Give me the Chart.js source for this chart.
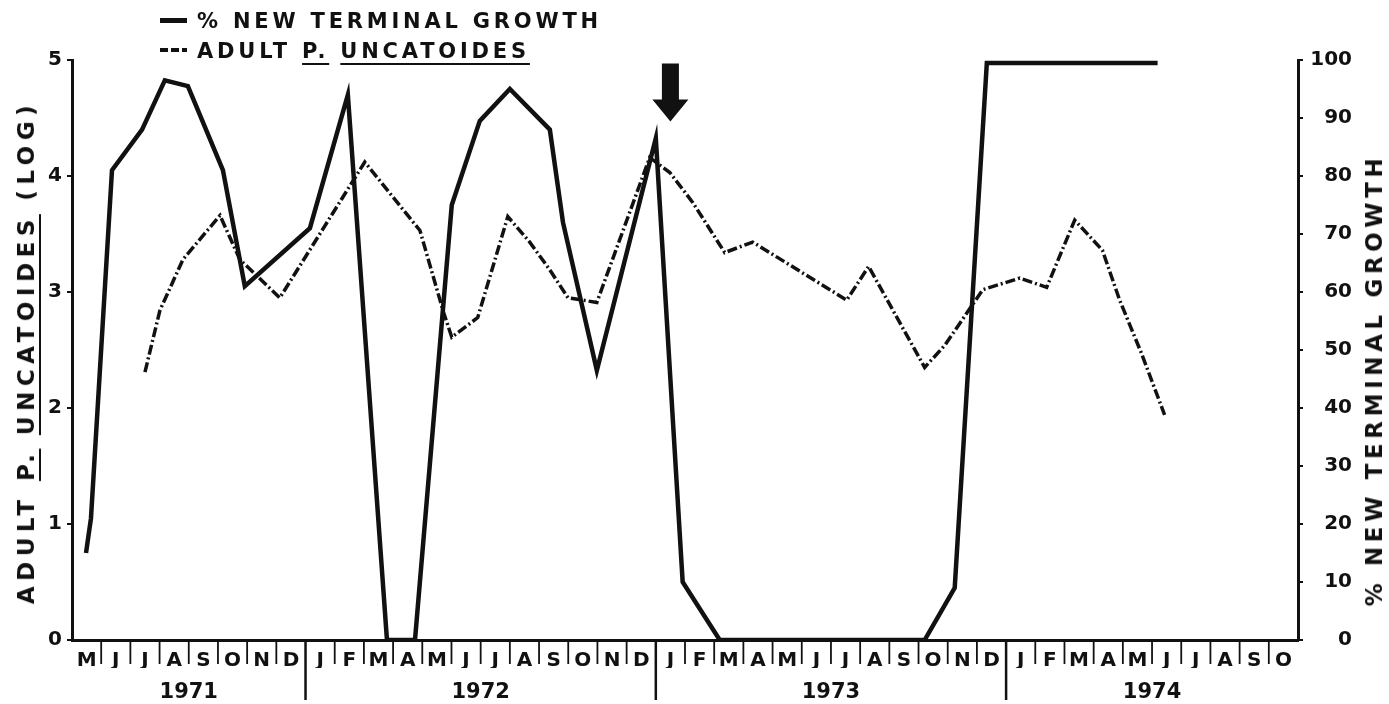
<!DOCTYPE html>
<html>
<head>
<meta charset="utf-8">
<script src="https://cdn.jsdelivr.net/npm/chart.js@4.4.0/dist/chart.umd.min.js"></script>
<style>
  body { margin: 0; background: #fff; }
  #wrap { position: relative; width: 1389px; height: 704px; font-family: "DejaVu Sans", sans-serif; font-weight: bold; color: #111; }
  #wrap canvas { position: absolute; left: 0; top: 0; }
  .lab { position: absolute; white-space: nowrap; font-size: 21px; line-height: 24px; letter-spacing: 3.8px; }
  .ttl { font-size: 23px; letter-spacing: 5.5px; }
  .rot { transform: translate(-50%, -50%) rotate(-90deg); }
  .key { display: inline-block; vertical-align: middle; width: 27px; margin-right: 10px; position: relative; top: -2px; }
  .solidKey { height: 5px; background: #111; }
  .dashKey { height: 4px; background: repeating-linear-gradient(90deg, #111 0 8px, transparent 8px 11px); }
  u { text-decoration-thickness: 2px; text-underline-offset: 5px; }
</style>
</head>
<body>
<div id="wrap">
  <canvas id="myChart" width="1389" height="704"></canvas>
  <div class="lab" style="left:160px; top:9px;"><span class="key solidKey"></span>% NEW TERMINAL GROWTH</div>
  <div class="lab" style="left:160px; top:39px;"><span class="key dashKey"></span>ADULT <u>P.</u> <u>UNCATOIDES</u></div>
  <div class="lab ttl rot" style="left:26px; top:352px;">ADULT <u>P.</u> <u>UNCATOIDES</u> (LOG)</div>
  <div class="lab ttl rot" style="left:1374px; top:380px; letter-spacing:4.6px;">% NEW TERMINAL GROWTH</div>
</div>
<script>
// month cells, May 1971 .. Oct 1974
const months = ['M','J','J','A','S','O','N','D',
  'J','F','M','A','M','J','J','A','S','O','N','D',
  'J','F','M','A','M','J','J','A','S','O','N','D',
  'J','F','M','A','M','J','J','A','S','O'];
const years = ['1971', '1972', '1973', '1974'];
const yearMid = [4, 14, 26, 37];
const yearBreaks = [8, 20, 32];

// % new terminal growth (right axis), x = months since 1 May 1971
const growthMonth = [0.48, 0.65, 1.37, 2.40, 3.18, 3.97, 5.17, 5.92, 8.15, 9.45, 10.79, 11.75, 13.01, 13.97, 15.0, 16.37, 16.82, 17.98, 20.0, 20.92, 22.19, 29.21, 30.24, 31.34, 37.19];
const growthPct = [15, 21, 81, 88, 96.5, 95.5, 81, 61, 71, 94, 0, 0, 75, 89.5, 95, 88, 72, 46.5, 86.5, 10, 0, 0, 9, 99.5, 99.5];

// adult P. uncatoides (log, left axis)
const adultMonth = [2.5, 3.01, 3.80, 5.07, 5.75, 7.12, 10.03, 11.92, 12.71, 13.01, 13.9, 14.93, 15.68, 16.37, 16.99, 17.98, 19.79, 20.48, 21.27, 22.36, 23.32, 26.54, 27.29, 29.21, 29.9, 31.2, 32.47, 33.39, 34.35, 35.3, 35.89, 36.64, 37.43];
const adultLog = [2.31, 2.84, 3.28, 3.66, 3.28, 2.95, 4.12, 3.53, 2.84, 2.61, 2.78, 3.65, 3.43, 3.19, 2.95, 2.91, 4.16, 4.03, 3.77, 3.34, 3.43, 2.93, 3.22, 2.35, 2.54, 3.02, 3.12, 3.04, 3.62, 3.36, 2.93, 2.47, 1.94];

// arrow marking January 1973
const arrowMonth = 20.5;
const arrowTop = 4.97;
const arrowTip = 4.47;

const ink = '#111';
const tickFont = { family: 'DejaVu Sans', weight: 'bold', size: 20 };

const axisMarks = {
    id: 'axisMarks',
    afterDraw(chart) {
        const ctx = chart.ctx;
        const xs = chart.scales.x;
        const ys = chart.scales.y;
        const b = chart.chartArea.bottom;
        ctx.save();
        ctx.strokeStyle = ink;
        for (let i = 1; i < months.length; i++) {
            const px = xs.getPixelForValue(i);
            const big = yearBreaks.includes(i);
            ctx.lineWidth = big ? 2.5 : 1.8;
            ctx.beginPath();
            ctx.moveTo(px, b);
            ctx.lineTo(px, b + (big ? 60 : 24));
            ctx.stroke();
        }
        // arrow
        const ax = xs.getPixelForValue(arrowMonth);
        const top = ys.getPixelForValue(arrowTop);
        const tip = ys.getPixelForValue(arrowTip);
        const head = 22;
        ctx.fillStyle = ink;
        ctx.beginPath();
        ctx.moveTo(ax - 8.5, top);
        ctx.lineTo(ax + 8.5, top);
        ctx.lineTo(ax + 8.5, tip - head);
        ctx.lineTo(ax + 18, tip - head);
        ctx.lineTo(ax, tip);
        ctx.lineTo(ax - 18, tip - head);
        ctx.lineTo(ax - 8.5, tip - head);
        ctx.closePath();
        ctx.fill();
        ctx.restore();
    }
};

const ctx = document.getElementById('myChart').getContext('2d');
const myChart = new Chart(ctx, {
    type: 'line',
    data: {
        datasets: [{
            label: '% NEW TERMINAL GROWTH',
            data: growthMonth.map((m, i) => ({ x: m, y: growthPct[i] })),
            yAxisID: 'y2',
            borderColor: ink,
            borderWidth: 4.5,
            pointRadius: 0,
            tension: 0,
            borderJoinStyle: 'miter'
        }, {
            label: 'ADULT P. UNCATOIDES',
            data: adultMonth.map((m, i) => ({ x: m, y: adultLog[i] })),
            yAxisID: 'y',
            borderColor: ink,
            borderWidth: 3.5,
            borderDash: [10, 3, 2, 3],
            pointRadius: 0,
            tension: 0
        }]
    },
    options: {
        responsive: false,
        animation: false,
        layout: { padding: { top: 60, right: 37, left: 0, bottom: 0 } },
        plugins: {
            legend: { display: false },
            tooltip: { enabled: false }
        },
        scales: {
            x: {
                type: 'linear',
                position: 'bottom',
                min: 0,
                max: months.length,
                weight: 0,
                afterBuildTicks: (scale) => {
                    scale.ticks = months.map((m, i) => ({ value: i + 0.5 }));
                },
                afterFit: (scale) => { scale.height = 28; },
                ticks: {
                    autoSkip: false,
                    maxRotation: 0,
                    padding: 1,
                    color: ink,
                    font: tickFont,
                    callback: (v, i) => months[i]
                },
                grid: { display: false },
                border: { color: ink, width: 3 }
            },
            xy: {
                type: 'linear',
                position: 'bottom',
                min: 0,
                max: months.length,
                weight: 1,
                afterBuildTicks: (scale) => {
                    scale.ticks = yearMid.map(v => ({ value: v }));
                },
                afterFit: (scale) => { scale.height = 36; },
                ticks: {
                    autoSkip: false,
                    maxRotation: 0,
                    padding: 4,
                    color: ink,
                    font: { family: 'DejaVu Sans', weight: 'bold', size: 21 },
                    callback: (v, i) => years[i]
                },
                grid: { display: false },
                border: { display: false }
            },
            y: {
                type: 'linear',
                position: 'left',
                min: 0,
                max: 5,
                afterFit: (scale) => { scale.width = 72; },
                ticks: { stepSize: 1, padding: 5, color: ink, font: tickFont },
                grid: { drawOnChartArea: false, tickLength: 5, color: ink, lineWidth: 2 },
                border: { color: ink, width: 3 }
            },
            y2: {
                type: 'linear',
                position: 'right',
                min: 0,
                max: 100,
                afterFit: (scale) => { scale.width = 54; },
                ticks: { stepSize: 10, crossAlign: 'far', color: ink, font: tickFont },
                grid: { drawOnChartArea: false, tickLength: 5, color: ink, lineWidth: 2 },
                border: { color: ink, width: 3 }
            }
        }
    },
    plugins: [axisMarks]
});
</script>
</body>
</html>
